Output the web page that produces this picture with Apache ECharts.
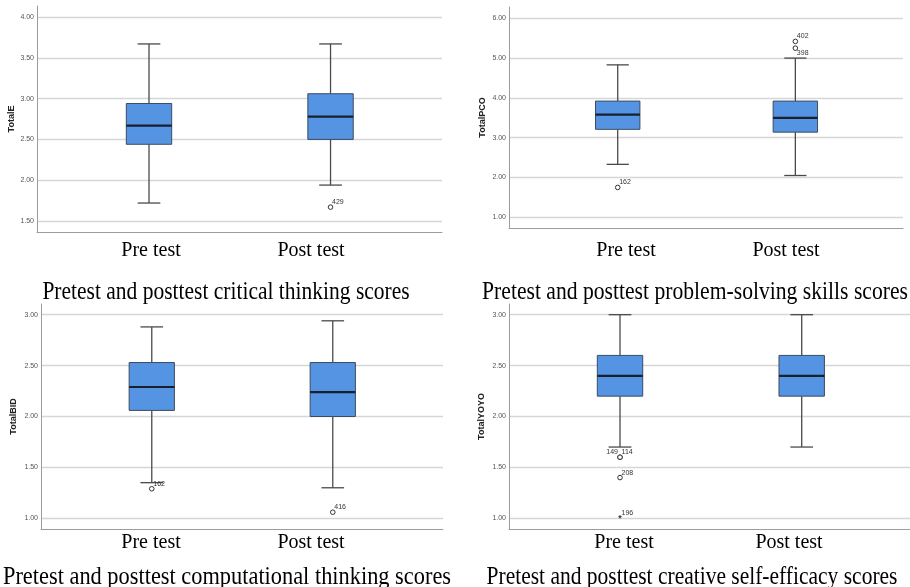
<!DOCTYPE html>
<html>
<head>
<meta charset="utf-8">
<script src="https://cdn.jsdelivr.net/npm/echarts@6/dist/echarts.min.js"></script>
<style>
html,body{margin:0;padding:0;background:#fff;}
#chart{width:910px;height:587px;}
</style>
</head>
<body>
<div id="chart"></div>
<script>
// ---------------- data ----------------
const categories = ['Pre test', 'Post test'];
// each box: [lower whisker, Q1, median, Q3, upper whisker]
const criticalPre  = [1.72, 2.44, 2.67, 2.94, 3.67];
const criticalPost = [1.94, 2.50, 2.78, 3.06, 3.67];
const criticalOutliers = [[2, 1.67, '429', 'o']];

const problemPre  = [2.33, 3.21, 3.58, 3.92, 4.83];
const problemPost = [2.05, 3.14, 3.50, 3.92, 5.00];
const problemOutliers = [[1, 1.75, '162', 'o'], [2, 5.42, '402', 'o'], [2, 5.25, '398', 'o']];

const computePre  = [1.35, 2.06, 2.29, 2.53, 2.88];
const computePost = [1.30, 2.00, 2.24, 2.53, 2.94];
const computeOutliers = [[1, 1.29, '162', 'o'], [2, 1.06, '416', 'o']];

const creativePre  = [1.70, 2.20, 2.40, 2.60, 3.00];
const creativePost = [1.70, 2.20, 2.40, 2.60, 3.00];
const creativeOutliers = [[1, 1.60, '149', 'o'], [1, 1.60, '114', 'o'], [1, 1.40, '208', 'o'], [1, 1.00, '196', '*']];

const ticksCritical = [1.5, 2.0, 2.5, 3.0, 3.5, 4.0];
const ticksProblem  = [1, 2, 3, 4, 5, 6];
const ticksCompute  = [1.0, 1.5, 2.0, 2.5, 3.0];
const ticksCreative = [1.0, 1.5, 2.0, 2.5, 3.0];

const axisNames = ['TotalE', 'TotalPCO', 'TotalBID', 'TotalYOYO'];
const captions = [
  'Pretest and posttest critical thinking scores',
  'Pretest and posttest problem-solving skills scores',
  'Pretest and posttest computational thinking scores',
  'Pretest and posttest creative self-efficacy scores'
];

// ---------------- layout / style ----------------
const panels = [
  { box: [criticalPre, criticalPost], out: criticalOutliers, ticks: ticksCritical,
    grid: {left: 37, top: 6, width: 405, height: 226}, xr: [0.383, 2.614], yr: [1.365, 4.135], nameGap: 20,
    catX: [151, 311], catY: 251, capX: 226, capY: 292, capScale: 0.86 },
  { box: [problemPre, problemPost], out: problemOutliers, ticks: ticksProblem,
    grid: {left: 509, top: 7, width: 394, height: 221}, xr: [0.388, 2.606], yr: [0.731, 6.284], nameGap: 22,
    catX: [626, 786], catY: 251, capX: 695, capY: 292, capScale: 0.865 },
  { box: [computePre, computePost], out: computeOutliers, ticks: ticksCompute,
    grid: {left: 41, top: 304, width: 402, height: 225}, xr: [0.388, 2.609], yr: [0.895, 3.105], nameGap: 23,
    catX: [151, 311], catY: 543, capX: 227, capY: 577, capScale: 0.895 },
  { box: [creativePre, creativePost], out: creativeOutliers, ticks: ticksCreative,
    grid: {left: 509, top: 304, width: 401, height: 225}, xr: [0.389, 2.596], yr: [0.895, 3.105], nameGap: 23,
    catX: [624, 789], catY: 543, capX: 692, capY: 577, capScale: 0.86 }
];
const labelSide = { '398': 'dr', '149': 'ul' };

const BOX_W = 0.25;
const boxFill = '#5494e2';
const boxStroke = '#3c4c5f';
const medianColor = '#17202c';
const whiskerColor = '#4a4a4a';
const gridColor = '#d6d6d6';
const axisColor = '#9c9c9c';

function renderBox(params, api) {
  const x = api.value(0);
  const lo = api.coord([x, api.value(1)]);
  const q1 = api.coord([x, api.value(2)]);
  const md = api.coord([x, api.value(3)]);
  const q3 = api.coord([x, api.value(4)]);
  const hi = api.coord([x, api.value(5)]);
  const half = api.size([BOX_W, 0])[0] / 2;
  const cap = half / 2;
  const ws = {stroke: whiskerColor, lineWidth: 1.3};
  return {
    type: 'group',
    children: [
      {type: 'line', shape: {x1: hi[0], y1: hi[1], x2: q3[0], y2: q3[1]}, style: ws},
      {type: 'line', shape: {x1: q1[0], y1: q1[1], x2: lo[0], y2: lo[1]}, style: ws},
      {type: 'line', shape: {x1: hi[0] - cap, y1: hi[1], x2: hi[0] + cap, y2: hi[1]}, style: ws},
      {type: 'line', shape: {x1: lo[0] - cap, y1: lo[1], x2: lo[0] + cap, y2: lo[1]}, style: ws},
      {type: 'rect', shape: {x: md[0] - half, y: q3[1], width: half * 2, height: q1[1] - q3[1]},
        style: {fill: boxFill, stroke: boxStroke, lineWidth: 1}},
      {type: 'line', shape: {x1: md[0] - half, y1: md[1], x2: md[0] + half, y2: md[1]},
        style: {stroke: medianColor, lineWidth: 2.2}}
    ]
  };
}

function makeOutlierRenderer(list) {
  return function (params, api) {
    const o = list[params.dataIndex];
    const p = api.coord([api.value(0), api.value(1)]);
    const side = labelSide[o[2]] || 'ur';
    const children = [];
    if (o[3] === '*') {
      children.push({type: 'text', x: p[0], y: p[1],
        style: {text: '*', font: 'bold 9px "Liberation Sans"', fill: '#333', align: 'center', verticalAlign: 'middle'}});
    } else {
      children.push({type: 'circle', shape: {cx: p[0], cy: p[1], r: 2.3},
        style: {fill: '#fff', stroke: '#333', lineWidth: 1}});
    }
    let lx = p[0] + 1.5, ly = p[1] - 5, al = 'left';
    if (side === 'dr') { ly = p[1] + 5; }
    if (side === 'ul') { lx = p[0] - 2; al = 'right'; }
    children.push({type: 'text', x: lx, y: ly,
      style: {text: o[2], font: '7px "Liberation Sans"', fill: '#333', align: al, verticalAlign: 'middle'}});
    return {type: 'group', children: children};
  };
}

const grids = [], xAxes = [], yAxes = [], series = [], graphics = [];
panels.forEach((p, i) => {
  grids.push(Object.assign({containLabel: false}, p.grid));
  xAxes.push({
    type: 'value', gridIndex: i, min: p.xr[0], max: p.xr[1],
    axisLine: {show: true, onZero: false, lineStyle: {color: axisColor, width: 1}},
    axisTick: {show: false}, axisLabel: {show: false}, splitLine: {show: false}
  });
  yAxes.push({
    type: 'value', gridIndex: i, min: p.yr[0], max: p.yr[1],
    name: axisNames[i], nameLocation: 'middle', nameGap: p.nameGap, nameRotate: 90,
    nameTextStyle: {fontFamily: 'Liberation Sans', fontWeight: 'bold', fontSize: 9, color: '#222'},
    axisLine: {show: true, lineStyle: {color: axisColor, width: 1}},
    axisTick: {show: false, customValues: p.ticks},
    axisLabel: {customValues: p.ticks, formatter: v => v.toFixed(2), fontSize: 7,
      fontFamily: 'Liberation Sans', color: '#555', margin: 3},
    splitLine: {show: true, lineStyle: {color: gridColor, width: 1.3}}
  });
  series.push({
    type: 'custom', xAxisIndex: i, yAxisIndex: i,
    renderItem: renderBox,
    encode: {x: 0, y: [1, 2, 3, 4, 5]},
    data: p.box.map((b, k) => [k + 1].concat(b)),
    z: 3
  });
  series.push({
    type: 'custom', xAxisIndex: i, yAxisIndex: i,
    renderItem: makeOutlierRenderer(p.out),
    encode: {x: 0, y: 1},
    data: p.out.map(o => [o[0], o[1]]),
    z: 4
  });
  categories.forEach((c, k) => {
    graphics.push({type: 'text', x: p.catX[k], y: p.catY,
      style: {text: c, font: '20px "Liberation Serif"', fill: '#000', align: 'center', verticalAlign: 'middle'}});
  });
  graphics.push({type: 'text', x: p.capX, y: p.capY, scaleX: p.capScale,
    style: {text: captions[i], font: '25px "Liberation Serif"', fill: '#000', align: 'center', verticalAlign: 'middle'}});
});

const chart = echarts.init(document.getElementById('chart'), null, {renderer: 'canvas'});
chart.setOption({
  animation: false,
  backgroundColor: '#fff',
  grid: grids,
  xAxis: xAxes,
  yAxis: yAxes,
  series: series,
  graphic: graphics
});
</script>
</body>
</html>
